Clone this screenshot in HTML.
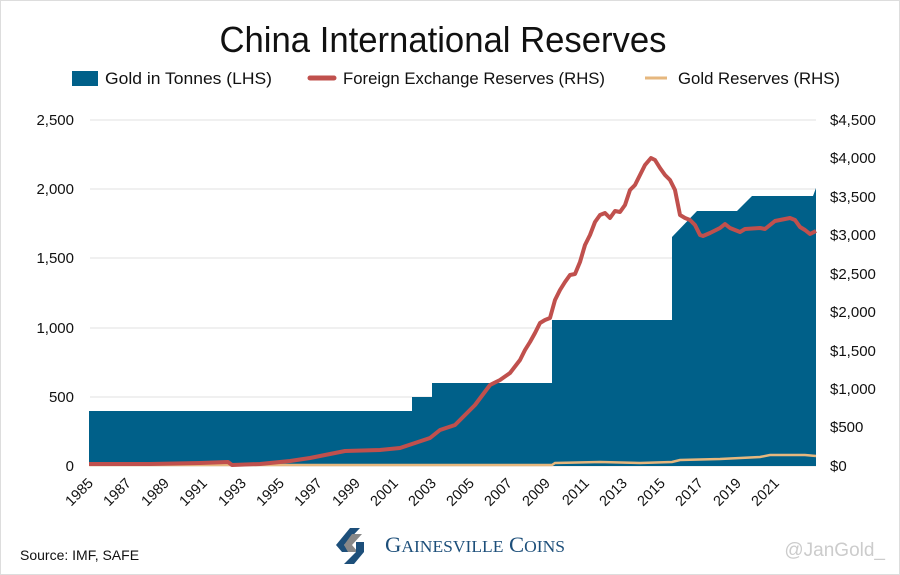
<!DOCTYPE html>
<html><head><meta charset="utf-8"><style>
html,body{margin:0;padding:0;background:#fff}
svg{display:block;font-family:"Liberation Sans",sans-serif}
</style></head><body>
<svg width="900" height="575" viewBox="0 0 900 575">
<rect x="0.5" y="0.5" width="899" height="574" fill="#fff" stroke="#ddd"/>
<text x="443" y="52" font-size="36" text-anchor="middle" textLength="447" lengthAdjust="spacingAndGlyphs" fill="#111">China International Reserves</text>
<rect x="72" y="71" width="26" height="15" fill="#006089"/>
<text x="105" y="84" font-size="17" textLength="167" lengthAdjust="spacingAndGlyphs" fill="#111">Gold in Tonnes (LHS)</text>
<line x1="310" y1="78" x2="334" y2="78" stroke="#c0504d" stroke-width="5" stroke-linecap="round"/>
<text x="343" y="84" font-size="17" textLength="262" lengthAdjust="spacingAndGlyphs" fill="#111">Foreign Exchange Reserves (RHS)</text>
<line x1="645" y1="78" x2="667" y2="78" stroke="#e6b77e" stroke-width="3"/>
<text x="678" y="84" font-size="17" textLength="162" lengthAdjust="spacingAndGlyphs" fill="#111">Gold Reserves (RHS)</text>
<g stroke="#e2e2e2" stroke-width="1">
<line x1="90" y1="120" x2="816" y2="120"/><line x1="90" y1="189" x2="816" y2="189"/>
<line x1="90" y1="258" x2="816" y2="258"/><line x1="90" y1="328" x2="816" y2="328"/>
<line x1="90" y1="397" x2="816" y2="397"/><line x1="90" y1="466" x2="816" y2="466"/>
</g>
<g font-size="15" fill="#111" text-anchor="end">
<text x="74" y="125">2,500</text><text x="74" y="194">2,000</text><text x="74" y="263">1,500</text>
<text x="74" y="333">1,000</text><text x="74" y="402">500</text><text x="74" y="471">0</text>
</g>
<g font-size="15" fill="#111">
<text x="830" y="125">$4,500</text><text x="830" y="163">$4,000</text><text x="830" y="202">$3,500</text>
<text x="830" y="240">$3,000</text><text x="830" y="279">$2,500</text><text x="830" y="317">$2,000</text>
<text x="830" y="356">$1,500</text><text x="830" y="394">$1,000</text><text x="830" y="432">$500</text><text x="830" y="471">$0</text>
</g>
<polygon fill="#006089" points="89,466 89,411 412,411 412,397 432,397 432,383 552,383 552,320 672,320 672,237 697,211 737,211 752,196 813,196 816,188 816,466"/>
<polyline fill="none" stroke="#e6b77e" stroke-width="2.5" points="89,465 552,465 555,463 600,462 640,463 672,462 680,460 720,459 760,457 770,455 790,455 805,455 816,456"/>
<polyline fill="none" stroke="#c0504d" stroke-width="4" stroke-linejoin="round" points="89,464 150,464 200,463 228,462 232,465 260,464 290,461 310,458 330,454 345,451 380,450 400,448 415,443 430,438 440,430 455,425 465,415 475,405 490,385 500,380 510,373 520,360 525,350 530,342 535,333 540,323 545,320 550,318 555,300 560,290 565,282 570,275 575,274 580,262 585,245 590,235 595,222 600,215 605,213 610,218 615,211 620,212 625,205 630,190 635,185 640,175 645,165 651,158 655,160 660,168 665,175 670,180 675,190 680,215 685,218 690,220 695,225 700,235 703,236 710,233 720,228 725,224 730,228 735,230 740,232 745,229 760,228 765,229 775,221 785,219 790,218 795,220 800,227 805,230 810,234 816,231"/>
<g font-size="14.5" fill="#111" text-anchor="end">
<text transform="translate(94,484) rotate(-45)">1985</text>
<text transform="translate(132,484) rotate(-45)">1987</text>
<text transform="translate(170,484) rotate(-45)">1989</text>
<text transform="translate(208,484) rotate(-45)">1991</text>
<text transform="translate(247,484) rotate(-45)">1993</text>
<text transform="translate(285,484) rotate(-45)">1995</text>
<text transform="translate(323,484) rotate(-45)">1997</text>
<text transform="translate(361,484) rotate(-45)">1999</text>
<text transform="translate(399,484) rotate(-45)">2001</text>
<text transform="translate(437,484) rotate(-45)">2003</text>
<text transform="translate(475,484) rotate(-45)">2005</text>
<text transform="translate(513,484) rotate(-45)">2007</text>
<text transform="translate(551,484) rotate(-45)">2009</text>
<text transform="translate(590,484) rotate(-45)">2011</text>
<text transform="translate(628,484) rotate(-45)">2013</text>
<text transform="translate(666,484) rotate(-45)">2015</text>
<text transform="translate(704,484) rotate(-45)">2017</text>
<text transform="translate(742,484) rotate(-45)">2019</text>
<text transform="translate(780,484) rotate(-45)">2021</text>
</g>
<text x="20" y="560" font-size="14" fill="#111">Source: IMF, SAFE</text>
<g transform="translate(338,528)">
<polygon points="12,0 22,0 6,17 12,24 4,24 -2,17" fill="#1d4f7a"/>
<polygon points="14,6 24,6 14,17 20,24 10,24 6,17" fill="#888"/>
<polygon points="18,14 26,14 26,24 16,36 6,36 18,24" fill="#1d4f7a"/>
</g>
<text x="385" y="552" font-size="22" fill="#1d4f7a" font-family="Liberation Serif,serif" textLength="180" lengthAdjust="spacingAndGlyphs">G<tspan font-size="17">AINESVILLE</tspan> C<tspan font-size="17">OINS</tspan></text>
<text x="885" y="556" font-size="19" fill="#ccc" text-anchor="end">@JanGold_</text>
</svg>
</body></html>
